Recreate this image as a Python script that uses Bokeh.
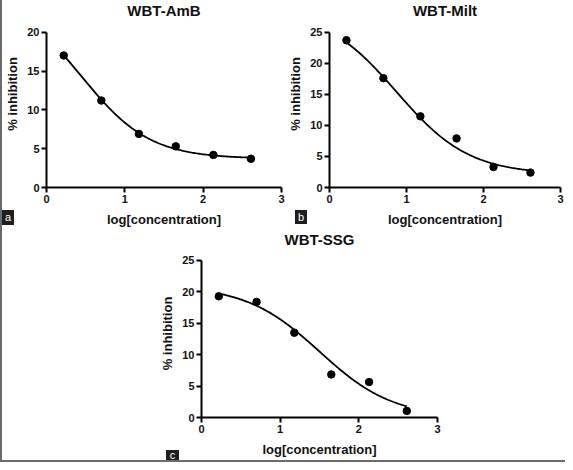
import numpy as np
from bokeh.plotting import figure
from bokeh.layouts import row, column
from bokeh.models import Div, Label
from bokeh.embed import file_html
from bokeh.resources import INLINE

# ---- data ----
log_conc = [0.22, 0.70, 1.18, 1.65, 2.13, 2.61]
amb_inhibition = [17.0, 11.2, 6.9, 5.3, 4.2, 3.7]
milt_inhibition = [23.7, 17.6, 11.45, 7.9, 3.3, 2.4]
ssg_inhibition = [19.3, 18.4, 13.5, 6.85, 5.65, 1.05]

# fitted sigmoidal dose-response curves: bottom, top, logEC50, hill slope
amb_fit = [3.7, 24.85, 0.45, 1.0]
milt_fit = [2.1, 28.7, 0.87, 0.92]
ssg_fit = [0.0, 21.0, 1.50, 0.93]

titles = ["WBT-AmB", "WBT-Milt", "WBT-SSG"]
panel_tags = ["a", "b", "c"]
x_ticks = [0, 1, 2, 3]
y_ticks_a = [0, 5, 10, 15, 20]
y_ticks_bc = [0, 5, 10, 15, 20, 25]
x_label = "log[concentration]"
y_label = "% inhibition"

FONT = "Liberation Sans"


def four_pl(x, fit):
    bottom, top, logec50, hill = fit
    return bottom + (top - bottom) / (1.0 + 10.0 ** ((x - logec50) * hill))


def make_panel(title, ys, fit, yticks, y_top, title_y, width, height, borders):
    """y_top: data value at the top edge of the plotting area;
    the drawn y axis is bounded to the tick range.
    title_y=None puts the title in the panel above the plot area."""
    left, right, top, bottom = borders
    p = figure(width=width, height=height, x_range=(0, 3),
               y_range=(0, y_top),
               output_backend="svg", toolbar_location=None,
               min_border_left=left, min_border_right=right,
               min_border_top=top, min_border_bottom=bottom)
    p.outline_line_color = None
    p.grid.visible = False
    p.border_fill_color = "white"

    for ax in (p.xaxis[0], p.yaxis[0]):
        ax.axis_line_width = 2
        ax.axis_line_color = "black"
        ax.major_tick_in = 0
        ax.major_tick_out = 5
        ax.major_tick_line_width = 2
        ax.major_tick_line_color = "black"
        ax.minor_tick_line_color = None
        ax.major_label_text_font = FONT
        ax.major_label_text_font_style = "bold"
        ax.major_label_text_font_size = "11px"
        ax.major_label_text_color = "#111111"
        ax.major_label_standoff = 2
        ax.axis_label_text_font = FONT
        ax.axis_label_text_font_style = "bold"
        ax.axis_label_text_font_size = "13px"
        ax.axis_label_text_color = "#111111"

    p.xaxis.axis_label_standoff = 6
    p.yaxis.axis_label_standoff = 4
    p.xaxis.ticker = x_ticks
    p.yaxis.ticker = yticks
    p.yaxis.bounds = (yticks[0], yticks[-1])
    p.xaxis.axis_label = x_label
    p.yaxis.axis_label = y_label

    xc = np.linspace(log_conc[0], log_conc[-1], 150)
    p.line(xc, four_pl(xc, fit), line_color="black", line_width=1.8)
    p.scatter(log_conc, ys, size=7.5, fill_color="black", line_color="black")

    if title_y is None:
        p.title.text = title
        p.title.align = "center"
        p.title.vertical_align = "top"
        p.title.standoff = 0
        p.title.text_font = FONT
        p.title.text_font_style = "bold"
        p.title.text_font_size = "15px"
        p.title.text_color = "#111111"
    else:
        p.add_layout(Label(x=1.5, y=title_y, text=title, text_align="center",
                           text_baseline="alphabetic", text_font=FONT,
                           text_font_style="bold", text_font_size="15px",
                           text_color="#111111"))
    return p


pa = make_panel(titles[0], amb_inhibition, amb_fit, y_ticks_a, 24.08, 22.8,
                283, 229, (43, 4, 0, 40))
pb = make_panel(titles[1], milt_inhibition, milt_fit, y_ticks_bc, 30.1, 28.5,
                280, 229, (39, 5, 0, 40))
pc = make_panel(titles[2], ssg_inhibition, ssg_fit, y_ticks_bc, 26.75, None,
                563, 231, (199, 128, 20, 43))


def tag_div(text, left, top, w, h):
    return Div(text=text, width=w, height=h, margin=(0, 0, 0, 0),
               styles={"position": "absolute", "left": f"{left}px",
                       "top": f"{top}px", "background-color": "#1e1e1e",
                       "color": "white", "font-family": FONT,
                       "font-size": "11px", "line-height": f"{h}px",
                       "text-align": "center", "z-index": "5"})


tag_a = tag_div(panel_tags[0], 2, 210, 12, 15)
tag_b = tag_div(panel_tags[1], 295, 210, 12, 14)
tag_c = tag_div(panel_tags[2], 166, 450, 13, 10)

left_rule = Div(text="", width=2, height=462, margin=(0, 0, 0, 0),
                styles={"background-color": "#6b6b6b"})
bottom_rule = Div(text="", width=563, height=2, margin=(0, 0, 0, 0),
                  styles={"background-color": "#6b6b6b"})

layout = row(left_rule, column(row(pa, pb), pc, bottom_rule),
             tag_a, tag_b, tag_c, styles={"position": "relative"})

open("out.html", "w").write(file_html(layout, INLINE))
